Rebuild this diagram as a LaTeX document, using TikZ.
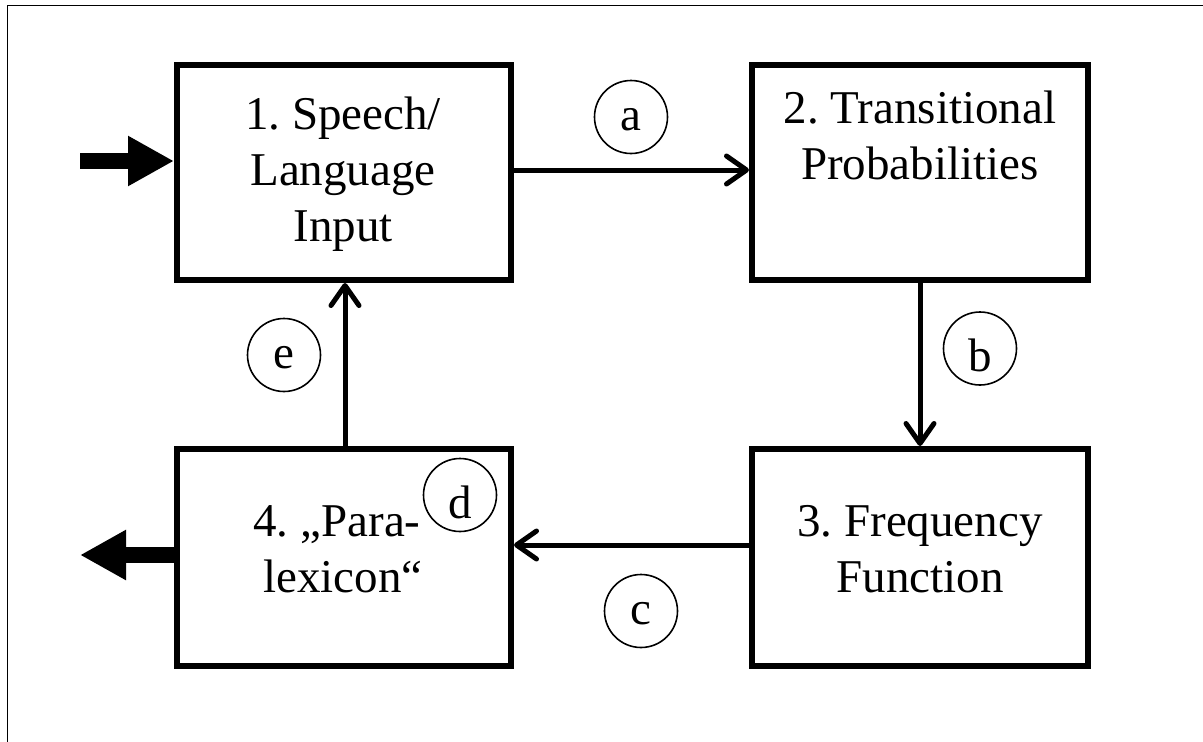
\documentclass[tikz,border=0pt]{standalone}
\usepackage{fontspec}
\setmainfont{Liberation Serif}
\frenchspacing
\usetikzlibrary{arrows.meta}
\tikzset{
  stage/.style={draw, line width=6pt, rectangle, inner sep=0pt},
  lbl/.style={anchor=base, inner sep=0pt, font=\fontsize{47}{56}\selectfont},
  tag/.style={draw, circle, line width=1.6pt, minimum size=73pt, inner sep=0pt,
              text depth=0pt, font=\fontsize{47}{56}\selectfont},
  low/.style={text height=26pt},
  tall/.style={text height=46pt},
  flow/.style={line width=5pt, line cap=round,
               -{Straight Barb[length=20pt, width=28pt, line cap=round, line join=round]}},
  bigarrow/.style={line width=16pt, -{Triangle[length=46pt, width=47pt]}}
}
\begin{document}
\begin{tikzpicture}[x=1pt, y=-1pt]
  \useasboundingbox (0,0) rectangle (1203,742);

  % outer frame, only its left and top sides fall inside the page
  \draw[line width=1.8pt] (7.5,742) -- (7.5,5.5) -- (1203,5.5);

  % the four stages
  \node[stage, minimum width=334pt, minimum height=215pt] (s1) at (344,172.5) {};
  \node[stage, minimum width=336pt, minimum height=215pt] (s2) at (920,172.5) {};
  \node[stage, minimum width=336pt, minimum height=217pt] (s3) at (920,557.5) {};
  \node[stage, minimum width=334pt, minimum height=217pt] (s4) at (344,557.5) {};

  % stage labels
  \node[lbl] (s1a) at (343,129) {1. Speech/};
  \node[lbl] (s1b) at (343,185) {Language};
  \node[lbl] (s1c) at (343,241) {Input};
  \node[lbl] (s2a) at (920,123) {2. Transitional};
  \node[lbl] (s2b) at (920,179) {Probabilities};
  \node[lbl] (s3a) at (920,536) {3. Frequency};
  \node[lbl] (s3b) at (920,592) {Function};
  \node[lbl] (s4a) at (337,536) {4. „Para-};
  \node[lbl] (s4b) at (343,592) {lexicon“};

  % connectors around the loop
  \coordinate (ya) at (0,170);
  \coordinate (xb) at (920,0);
  \coordinate (yc) at (0,545);
  \coordinate (xe) at (345,0);
  \draw[flow] (s1.east |- ya) -- (s2.west |- ya);
  \draw[flow] (s2.south -| xb) -- (s3.north -| xb);
  \draw[flow] (s3.west |- yc) -- (s4.east |- yc);
  \draw[flow] (s4.north -| xe) -- (s1.south -| xe);

  % input and output arrows
  \coordinate (inStart) at (80,161);
  \coordinate (outEnd) at (80,555);
  \draw[bigarrow] (inStart) -- (s1.west |- inStart);
  \draw[bigarrow] (s4.west |- outEnd) -- (outEnd);

  % step tags
  \node[tag, low]  (ta) at (631,117) {a};
  \node[tag, tall] (tb) at (980,348.5) {b};
  \node[tag, low]  (tc) at (641,611) {c};
  \node[tag, tall] (td) at (460,495) {d};
  \node[tag, low]  (te) at (284,355) {e};
\end{tikzpicture}
\end{document}
